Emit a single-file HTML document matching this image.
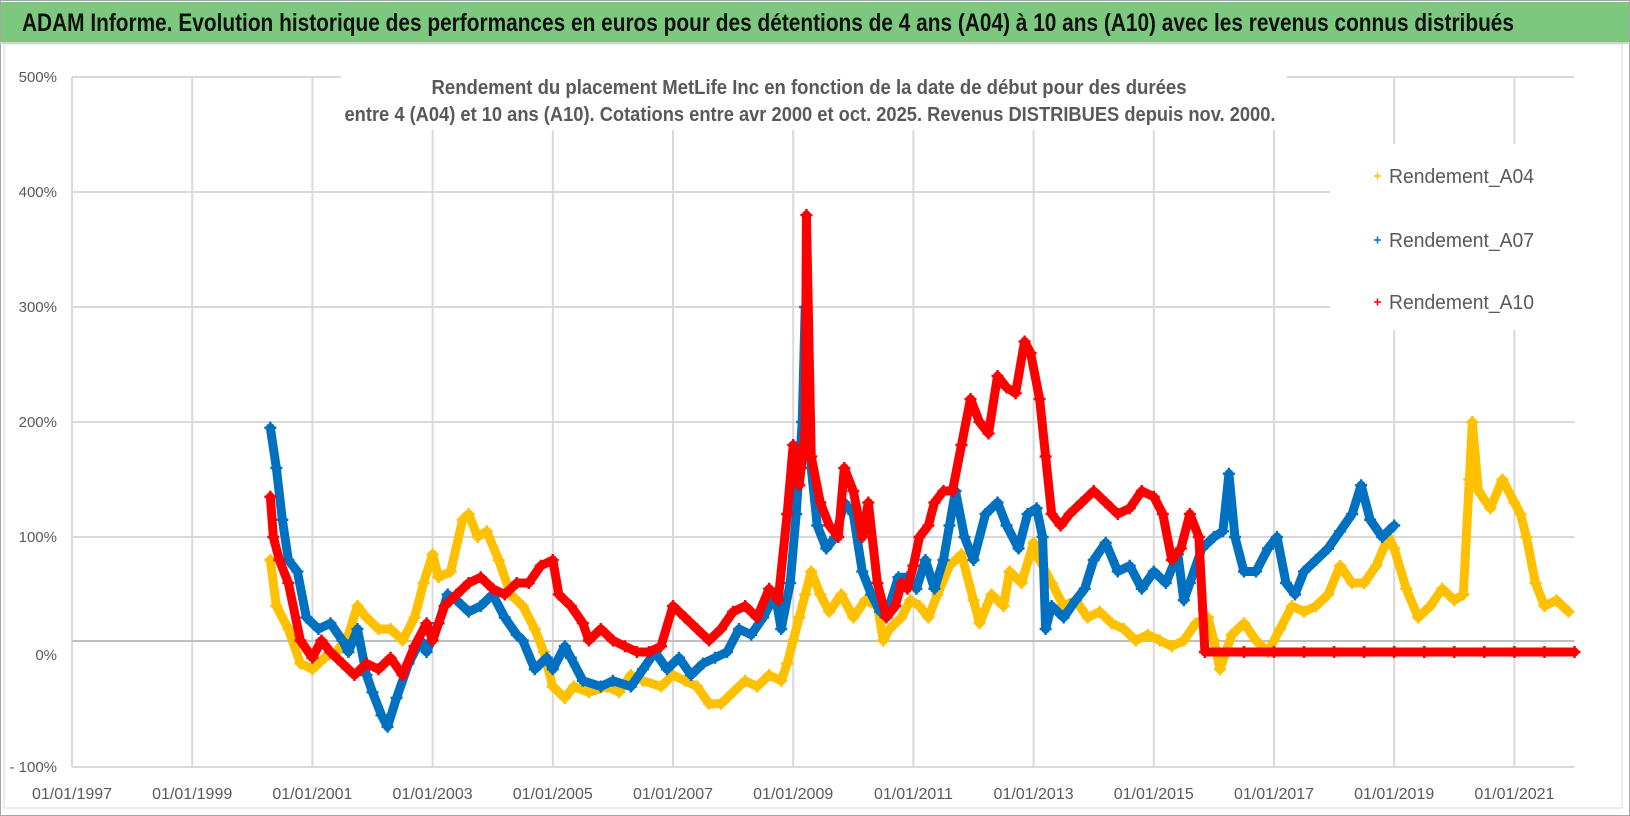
<!DOCTYPE html>
<html><head><meta charset="utf-8">
<style>
html,body{margin:0;padding:0;background:#fff;}
svg{display:block;}
text{font-family:"Liberation Sans Narrow","Liberation Sans",sans-serif;}
</style></head>
<body>
<svg id="chart" width="1630" height="816" viewBox="0 0 1630 816" xmlns="http://www.w3.org/2000/svg">
  <rect x="0.5" y="0.5" width="1629" height="815" fill="#fff" stroke="#a6a6a6"/>
  <rect x="1" y="2" width="1628" height="40" fill="#7dc87f"/>
  <line x1="0" y1="43" x2="1630" y2="43" stroke="#d0d0d0" stroke-width="2"/>
  <text x="22" y="31" font-size="25" font-weight="bold" fill="#111" textLength="1492" lengthAdjust="spacingAndGlyphs">ADAM Informe. Evolution historique des performances en euros pour des détentions de 4 ans (A04) à 10 ans (A10) avec les revenus connus distribués</text>
  <rect x="4" y="44" width="1618" height="764" fill="none" stroke="#d9d9d9"/>
  <g id="grid"></g>
  <g id="yaxis"></g>
  <g id="xaxis"></g>
  <g id="series"></g>
  <rect x="341" y="68" width="946" height="62" fill="#fff"/>
  <text x="809" y="94" text-anchor="middle" font-size="20" font-weight="bold" fill="#595959" textLength="755" lengthAdjust="spacingAndGlyphs">Rendement du placement MetLife Inc en fonction de la date de début pour des durées</text>
  <text x="810" y="121" text-anchor="middle" font-size="20" font-weight="bold" fill="#595959" textLength="931" lengthAdjust="spacingAndGlyphs">entre 4 (A04) et 10 ans (A10). Cotations entre avr 2000 et oct. 2025. Revenus DISTRIBUES depuis nov. 2000.</text>
  <g id="legend">
    <rect x="1330" y="144" width="245" height="186" fill="#fff"/>
  </g>
</svg>
<script>
const yTicks = [500,400,300,200,100,0,-100];
const yTickLabels = ["500%","400%","300%","200%","100%","0%","- 100%"];
const xTicks = [1997,1999,2001,2003,2005,2007,2009,2011,2013,2015,2017,2019,2021];
const xTickLabels = ["01/01/1997","01/01/1999","01/01/2001","01/01/2003","01/01/2005","01/01/2007","01/01/2009","01/01/2011","01/01/2013","01/01/2015","01/01/2017","01/01/2019","01/01/2021"];
const seriesNames = ["Rendement_A04","Rendement_A07","Rendement_A10"];

const a04Dates = [2000.3,2000.4,2000.6,2000.8,2001.0,2001.2,2001.4,2001.6,2001.75,2001.9,2002.1,2002.3,2002.5,2002.7,2002.85,2003.0,2003.1,2003.3,2003.5,2003.6,2003.75,2003.9,2004.1,2004.3,2004.5,2004.7,2004.85,2005.0,2005.2,2005.35,2005.6,2005.9,2006.1,2006.3,2006.5,2006.8,2007.0,2007.2,2007.4,2007.6,2007.8,2008.0,2008.2,2008.4,2008.6,2008.8,2008.9,2009.0,2009.1,2009.2,2009.3,2009.45,2009.6,2009.8,2010.0,2010.2,2010.4,2010.5,2010.6,2010.8,2010.95,2011.1,2011.25,2011.4,2011.6,2011.8,2012.0,2012.1,2012.3,2012.5,2012.6,2012.8,2013.0,2013.1,2013.3,2013.5,2013.7,2013.9,2014.1,2014.3,2014.5,2014.7,2014.9,2015.1,2015.3,2015.5,2015.7,2015.9,2016.0,2016.1,2016.3,2016.5,2016.7,2016.9,2017.1,2017.3,2017.5,2017.7,2017.9,2018.1,2018.3,2018.5,2018.7,2018.9,2019.0,2019.2,2019.4,2019.6,2019.8,2020.0,2020.15,2020.25,2020.3,2020.4,2020.6,2020.8,2021.0,2021.1,2021.2,2021.35,2021.5,2021.7,2021.9];
const a04Values = [80,40,20,-10,-15,-5,0,15,40,30,20,20,10,30,60,85,65,70,115,120,100,105,80,50,40,20,0,-30,-40,-30,-35,-30,-35,-20,-25,-30,-20,-25,-30,-45,-45,-35,-25,-30,-20,-25,-10,10,30,50,70,50,35,50,30,45,40,10,20,30,45,40,30,50,75,85,45,25,50,40,70,60,95,80,60,40,45,30,35,25,20,10,15,10,5,10,25,30,10,-15,15,25,10,0,20,40,35,40,50,75,60,60,75,100,90,55,30,40,55,45,50,150,200,140,125,150,130,120,100,60,40,45,35];

const a07Dates = [2000.3,2000.4,2000.5,2000.6,2000.75,2000.9,2001.1,2001.3,2001.5,2001.6,2001.75,2001.9,2002.0,2002.15,2002.25,2002.4,2002.6,2002.8,2002.9,2003.1,2003.25,2003.4,2003.6,2003.8,2004.0,2004.2,2004.4,2004.5,2004.7,2004.9,2005.0,2005.2,2005.3,2005.5,2005.8,2006.0,2006.3,2006.5,2006.7,2006.9,2007.1,2007.3,2007.5,2007.7,2007.9,2008.1,2008.3,2008.5,2008.7,2008.8,2008.95,2009.05,2009.15,2009.2,2009.3,2009.4,2009.55,2009.7,2009.85,2010.0,2010.15,2010.3,2010.45,2010.6,2010.75,2010.9,2011.05,2011.2,2011.35,2011.5,2011.6,2011.7,2011.85,2012.0,2012.2,2012.4,2012.55,2012.75,2012.9,2013.05,2013.15,2013.2,2013.3,2013.5,2013.7,2013.85,2014.0,2014.2,2014.4,2014.6,2014.8,2015.0,2015.2,2015.4,2015.5,2015.6,2015.8,2016.0,2016.15,2016.25,2016.35,2016.5,2016.7,2016.9,2017.05,2017.2,2017.35,2017.5,2017.7,2017.9,2018.1,2018.3,2018.45,2018.6,2018.8,2019.0];
const a07Values = [195,160,115,80,70,30,20,25,10,0,20,-20,-35,-55,-65,-40,-10,10,0,25,50,45,35,40,50,30,15,10,-15,-5,-15,5,-5,-25,-30,-25,-30,-15,0,-15,-5,-20,-10,-5,0,20,15,30,50,20,60,120,200,300,160,110,90,100,130,120,70,50,35,40,65,65,55,80,55,80,110,140,100,80,120,130,110,90,120,125,100,20,40,30,45,55,80,95,70,75,55,70,60,85,45,60,90,100,105,155,100,70,70,90,100,60,50,70,80,90,105,120,145,115,100,110];

const a10Dates = [2000.3,2000.35,2000.45,2000.6,2000.8,2001.0,2001.15,2001.3,2001.5,2001.7,2001.9,2002.1,2002.3,2002.5,2002.7,2002.9,2003.0,2003.2,2003.4,2003.6,2003.8,2004.0,2004.2,2004.4,2004.6,2004.8,2005.0,2005.1,2005.3,2005.5,2005.6,2005.8,2006.0,2006.2,2006.4,2006.6,2006.8,2007.0,2007.2,2007.4,2007.6,2007.8,2008.0,2008.2,2008.4,2008.6,2008.75,2008.9,2009.0,2009.1,2009.2,2009.22,2009.3,2009.45,2009.6,2009.75,2009.85,2010.0,2010.15,2010.25,2010.4,2010.55,2010.7,2010.8,2010.9,2011.0,2011.1,2011.25,2011.35,2011.5,2011.65,2011.8,2011.95,2012.1,2012.25,2012.4,2012.55,2012.7,2012.85,2012.95,2013.1,2013.2,2013.3,2013.45,2013.6,2013.8,2014.0,2014.2,2014.4,2014.6,2014.8,2015.0,2015.15,2015.3,2015.45,2015.6,2015.75,2015.85,2016.5,2017.0,2017.5,2018.0,2018.5,2019.0,2019.5,2020.0,2020.5,2021.0,2021.5,2022.0];
const a10Values = [135,100,80,60,10,-5,10,0,-10,-20,-10,-15,-5,-20,5,25,10,40,50,60,65,55,50,60,60,75,80,50,40,25,10,20,10,5,0,0,5,40,30,20,10,20,35,40,30,55,45,120,180,145,190,380,170,130,110,100,160,140,100,130,60,30,40,60,55,75,100,110,130,140,140,180,220,200,190,240,230,225,270,260,220,170,120,110,120,130,140,130,120,125,140,135,120,80,90,120,100,0,0,0,0,0,0,0,0,0,0,0,0,0];

const colors = ["#FFC000","#0070C0","#FF0000"];
const NS = "http://www.w3.org/2000/svg";
const X0 = 72, PX_PER_YEAR = 60.1, Y0 = 652, PX_PER_PCT = 1.15;
function xScale(t){ return X0 + (t - 1997) * PX_PER_YEAR; }
function yScale(v){ return Y0 - v * PX_PER_PCT; }
function mk(tag, attrs, parent){
  const e = document.createElementNS(NS, tag);
  for (const k in attrs) e.setAttribute(k, attrs[k]);
  parent.appendChild(e); return e;
}
const grid = document.getElementById('grid');
const yaxis = document.getElementById('yaxis');
const xaxis = document.getElementById('xaxis');
const xEnd = xScale(2022);
yTicks.forEach((v,i)=>{
  if (v !== 0) {
    const l = mk('line',{x1:X0,x2:xEnd,y1:yScale(v),y2:yScale(v),stroke:'#d9d9d9','stroke-width':2},grid);
    
    
  }
  const t = mk('text',{x:57,y:yScale(v)+(v===0?8:5),'text-anchor':'end','font-size':15,fill:'#595959'},yaxis);
  t.textContent = yTickLabels[i];
  
  
});
xTicks.forEach((yr,i)=>{
  const l = mk('line',{x1:xScale(yr),x2:xScale(yr),y1:yScale(500),y2:yScale(-100),stroke:'#d9d9d9','stroke-width':2},grid);
  
  
  const t = mk('text',{x:xScale(yr),y:799,'text-anchor':'middle','font-size':16,fill:'#595959'},xaxis);
  t.textContent = xTickLabels[i];
  
  
});
const axisLine = mk('line',{x1:X0,x2:xEnd,y1:641,y2:641,stroke:'#bfbfbf','stroke-width':2},xaxis);



const seriesLayer = document.getElementById('series');
const allDates = [a04Dates,a07Dates,a10Dates];
const allValues = [a04Values,a07Values,a10Values];
allDates.forEach((dates,si)=>{
  const g = mk('g',{},seriesLayer);
  
  
  const pts = dates.map((d,i)=>xScale(d)+','+yScale(allValues[si][i])).join(' ');
  const pl = mk('polyline',{points:pts,fill:'none',stroke:colors[si],'stroke-width':9,'stroke-linejoin':'round','stroke-linecap':'round'},g);
  
  
  dates.forEach((d,i)=>{
    const cx = xScale(d), cy = yScale(allValues[si][i]);
    const p = mk('path',{d:`M${cx-6},${cy}H${cx+6}M${cx},${cy-6}V${cy+6}`,stroke:colors[si],'stroke-width':2.5},g);
    
    
  });
});

const legend = document.getElementById('legend');
const legendY = [176,240,302];
seriesNames.forEach((n,i)=>{
  const g = mk('g',{},legend);
  
  
  const cy = legendY[i];
  mk('path',{d:`M1374,${cy}H1381M1377.5,${cy-3.5}V${cy+3.5}`,stroke:colors[i],'stroke-width':1.5},g);
  const t = mk('text',{x:1389,y:cy+7,'font-size':20,fill:'#595959',textLength:145,lengthAdjust:'spacingAndGlyphs'},g);
  t.textContent = n;
  
  
});
</script>
</body></html>
